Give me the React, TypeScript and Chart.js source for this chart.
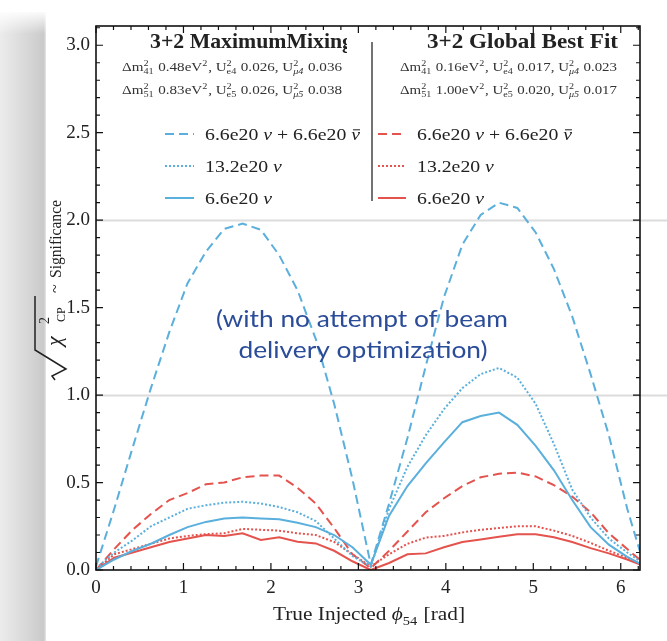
import React, { useEffect, useRef } from "react";
import { Chart, registerables } from "chart.js";

Chart.register(...registerables);

const W = 667;
const H = 641;

// True injected phase (rad)
const PHI = [0, 0.209, 0.419, 0.628, 0.838, 1.047, 1.257, 1.466, 1.676, 1.885, 2.094, 2.304, 2.513, 2.723, 2.932, 3.142, 3.351, 3.561, 3.770, 3.979, 4.189, 4.398, 4.608, 4.817, 5.027, 5.236, 5.445, 5.655, 5.864, 6.074, 6.283];

// 3+2 Maximum Mixing (blue)
const MM_NU_NUBAR = [0.02, 0.35, 0.70, 1.04, 1.36, 1.64, 1.82, 1.95, 1.98, 1.945, 1.80, 1.60, 1.32, 0.95, 0.52, 0.03, 0.38, 0.755, 1.165, 1.56, 1.86, 2.03, 2.10, 2.07, 1.93, 1.72, 1.45, 1.12, 0.77, 0.35, 0.0];
const MM_132_NU = [0.01, 0.10, 0.17, 0.25, 0.30, 0.35, 0.37, 0.385, 0.39, 0.38, 0.36, 0.33, 0.28, 0.18, 0.08, 0.02, 0.35, 0.59, 0.77, 0.92, 1.04, 1.12, 1.155, 1.10, 0.95, 0.72, 0.46, 0.30, 0.18, 0.10, 0.03];
const MM_66_NU = [0.0, 0.06, 0.11, 0.15, 0.20, 0.245, 0.275, 0.295, 0.30, 0.295, 0.29, 0.27, 0.245, 0.20, 0.13, 0.03, 0.31, 0.48, 0.61, 0.73, 0.845, 0.88, 0.90, 0.83, 0.71, 0.57, 0.40, 0.245, 0.145, 0.075, 0.02];

// 3+2 Global Best Fit (red)
const BF_NU_NUBAR = [0.0, 0.12, 0.23, 0.32, 0.40, 0.44, 0.49, 0.50, 0.53, 0.54, 0.54, 0.47, 0.38, 0.24, 0.09, 0.01, 0.11, 0.22, 0.33, 0.41, 0.48, 0.53, 0.55, 0.557, 0.535, 0.485, 0.42, 0.33, 0.21, 0.12, 0.03];
const BF_132_NU = [0.0, 0.09, 0.12, 0.15, 0.18, 0.195, 0.205, 0.21, 0.235, 0.23, 0.225, 0.21, 0.20, 0.16, 0.09, 0.02, 0.09, 0.15, 0.185, 0.195, 0.215, 0.23, 0.24, 0.25, 0.25, 0.225, 0.195, 0.155, 0.11, 0.07, 0.02];
const BF_66_NU = [0.0, 0.07, 0.10, 0.13, 0.16, 0.18, 0.20, 0.195, 0.21, 0.172, 0.187, 0.162, 0.152, 0.11, 0.05, 0.0, 0.04, 0.09, 0.095, 0.13, 0.16, 0.175, 0.19, 0.204, 0.204, 0.187, 0.16, 0.125, 0.095, 0.06, 0.02];

const X_TICKS = [0, 1, 2, 3, 4, 5, 6];
const Y_TICKS = [0, 0.5, 1.0, 1.5, 2.0, 2.5, 3.0];
const GUIDE_LEVELS = [1.0, 2.0];

const TITLE_LEFT = "3+2 MaximumMixing";
const TITLE_RIGHT = "3+2 Global Best Fit";
const NOTE_LINES = ["(with no attempt of beam", "delivery optimization)"];

const BLUE = "#5aafdc";
const RED = "#e4534d";
const INK = "#222";
const SERIF = '"Liberation Serif", "Times New Roman", serif';

const DASH = [9, 5];
const DOT = [2, 2];

type Seg = { t: string; it?: boolean; sub?: string; sup?: string; bar?: boolean; subIt?: boolean };

function fnt(size: number, it = false, bold = false, fam = SERIF) {
  return `${it ? "italic " : ""}${bold ? "bold " : ""}${size}px ${fam}`;
}

function richWidth(ctx: CanvasRenderingContext2D, segs: Seg[], size: number, bold = false) {
  let w = 0;
  for (const s of segs) {
    ctx.font = fnt(size, !!s.it, bold);
    w += ctx.measureText(s.t).width;
    if (s.sub || s.sup) {
      const ss = size * 0.68;
      let a = 0, b = 0;
      if (s.sub) { ctx.font = fnt(ss, !!s.subIt, bold); a = ctx.measureText(s.sub).width; }
      if (s.sup) { ctx.font = fnt(ss, false, bold); b = ctx.measureText(s.sup).width; }
      w += Math.max(a, b) + size * 0.05;
    }
  }
  return w;
}

function drawRich(
  ctx: CanvasRenderingContext2D,
  segs: Seg[],
  x: number,
  y: number,
  size: number,
  o: { bold?: boolean; align?: "left" | "center" | "right"; width?: number; sx?: number; color?: string } = {}
) {
  const w = richWidth(ctx, segs, size, !!o.bold);
  const sx = o.width ? o.width / w : o.sx ?? 1;
  const total = w * sx;
  const x0 = o.align === "center" ? x - total / 2 : o.align === "right" ? x - total : x;
  ctx.save();
  ctx.translate(x0, y);
  ctx.scale(sx, 1);
  ctx.fillStyle = o.color ?? INK;
  ctx.strokeStyle = o.color ?? INK;
  ctx.textBaseline = "alphabetic";
  ctx.textAlign = "left";
  let cx = 0;
  for (const s of segs) {
    ctx.font = fnt(size, !!s.it, !!o.bold);
    const tw = ctx.measureText(s.t).width;
    ctx.fillText(s.t, cx, 0);
    if (s.bar) {
      ctx.lineWidth = Math.max(1, size * 0.06);
      ctx.beginPath();
      ctx.moveTo(cx + tw * 0.2, -size * 0.6);
      ctx.lineTo(cx + tw * 1.0, -size * 0.6);
      ctx.stroke();
    }
    cx += tw;
    if (s.sub || s.sup) {
      const ss = size * 0.68;
      let a = 0, b = 0;
      if (s.sub) {
        ctx.font = fnt(ss, !!s.subIt, !!o.bold);
        ctx.fillText(s.sub, cx, size * 0.25);
        a = ctx.measureText(s.sub).width;
      }
      if (s.sup) {
        ctx.font = fnt(ss, false, !!o.bold);
        ctx.fillText(s.sup, cx, -size * 0.42);
        b = ctx.measureText(s.sup).width;
      }
      cx += Math.max(a, b) + size * 0.05;
    }
  }
  ctx.restore();
  return sx;
}

function paramSegs(i: string, dm: string, ue: string, um: string): Seg[] {
  return [
    { t: "\u0394m", sub: i + "1", sup: "2" },
    { t: " " + dm + "eV", sup: "2" },
    { t: ", U", sub: "e" + i, sup: "2" },
    { t: " " + ue + ", U", sub: "\u03bc" + i, sup: "2", subIt: true },
    { t: " " + um },
  ];
}

const LEGEND_SEGS: Seg[][] = [
  [{ t: "6.6e20 " }, { t: "\u03bd", it: true }, { t: " + 6.6e20 " }, { t: "\u03bd", it: true, bar: true }],
  [{ t: "13.2e20 " }, { t: "\u03bd", it: true }],
  [{ t: "6.6e20 " }, { t: "\u03bd", it: true }],
];

const backgroundPlugin = {
  id: "slideBackground",
  beforeDraw(chart: any) {
    const ctx: CanvasRenderingContext2D = chart.ctx;
    ctx.save();
    ctx.fillStyle = "#ffffff";
    ctx.fillRect(0, 0, W, H);
    const g = ctx.createLinearGradient(0, 0, 46, 0);
    g.addColorStop(0, "#ececec");
    g.addColorStop(0.8, "#d0d0d0");
    g.addColorStop(0.95, "#c9c9c9");
    g.addColorStop(1, "#e6e6e6");
    ctx.fillStyle = g;
    ctx.fillRect(0, 12, 46, H - 12);
    const gv = ctx.createLinearGradient(0, 10, 0, 34);
    gv.addColorStop(0, "rgba(255,255,255,1)");
    gv.addColorStop(1, "rgba(255,255,255,0)");
    ctx.fillStyle = gv;
    ctx.fillRect(0, 10, 46, 24);
    ctx.restore();
  },
  beforeDatasetsDraw(chart: any) {
    const ctx: CanvasRenderingContext2D = chart.ctx;
    const y = chart.scales.y;
    const a = chart.chartArea;
    ctx.save();
    ctx.strokeStyle = "#dcdcdc";
    ctx.lineWidth = 2;
    for (const v of GUIDE_LEVELS) {
      const py = Math.round(y.getPixelForValue(v)) + 0.5;
      ctx.beginPath();
      ctx.moveTo(a.left, py);
      ctx.lineTo(W, py);
      ctx.stroke();
    }
    ctx.restore();
  },
};

const framePlugin = {
  id: "frameAndText",
  afterDraw(chart: any) {
    const ctx: CanvasRenderingContext2D = chart.ctx;
    const a = chart.chartArea;
    const xs = chart.scales.x;
    const ys = chart.scales.y;
    ctx.save();
    // frame
    ctx.strokeStyle = "#111";
    ctx.lineWidth = 1.6;
    ctx.strokeRect(a.left, a.top, a.right - a.left, a.bottom - a.top);
    // inward ticks
    ctx.lineWidth = 1.2;
    for (let i = 0; i <= 31; i++) {
      const v = i * 0.2;
      if (v > xs.max) break;
      const px = xs.getPixelForValue(v);
      const major = i % 5 === 0;
      const L = major ? 7 : 4;
      ctx.beginPath();
      ctx.moveTo(px, a.bottom);
      ctx.lineTo(px, a.bottom - L);
      ctx.moveTo(px, a.top);
      ctx.lineTo(px, a.top + L);
      ctx.stroke();
    }
    for (let i = 0; i <= 31; i++) {
      const v = i * 0.1;
      if (v > ys.max) break;
      const py = ys.getPixelForValue(v);
      const major = i % 5 === 0;
      const L = major ? 7 : 4;
      ctx.beginPath();
      ctx.moveTo(a.left, py);
      ctx.lineTo(a.left + L, py);
      ctx.moveTo(a.right, py);
      ctx.lineTo(a.right - L, py);
      ctx.stroke();
    }

    // header titles
    ctx.save();
    ctx.beginPath();
    ctx.rect(0, 0, 347, H);
    ctx.clip();
    drawRich(ctx, [{ t: TITLE_LEFT }], 150, 48, 21, { bold: true, width: 203 });
    ctx.restore();
    drawRich(ctx, [{ t: TITLE_RIGHT }], 427, 48, 21, { bold: true, width: 191 });

    drawRich(ctx, paramSegs("4", "0.48", "0.026", "0.036"), 122, 71, 13, { width: 220, color: "#333" });
    drawRich(ctx, paramSegs("5", "0.83", "0.026", "0.038"), 122, 94, 13, { width: 220, color: "#333" });
    drawRich(ctx, paramSegs("4", "0.16", "0.017", "0.023"), 400, 71, 13, { width: 217, color: "#333" });
    drawRich(ctx, paramSegs("5", "1.00", "0.020", "0.017"), 400, 94, 13, { width: 217, color: "#333" });

    // separator
    ctx.strokeStyle = "#444";
    ctx.lineWidth = 1.5;
    ctx.beginPath();
    ctx.moveTo(372, 42);
    ctx.lineTo(372, 201);
    ctx.stroke();

    // legend
    const ds = chart.data.datasets;
    const rowsY = [134, 166, 198];
    const cols = [
      { s0: 165, s1: 194, tx: 205, idx: [0, 1, 2] },
      { s0: 378, s1: 406, tx: 417, idx: [3, 4, 5] },
    ];
    const legSx = 155 / richWidth(ctx, LEGEND_SEGS[0], 17);
    for (const c of cols) {
      c.idx.forEach((di, r) => {
        const d = ds[di];
        const y = rowsY[r];
        ctx.save();
        ctx.strokeStyle = d.borderColor;
        ctx.lineWidth = 2;
        ctx.setLineDash(d.borderDash || []);
        ctx.beginPath();
        ctx.moveTo(c.s0, y);
        ctx.lineTo(c.s1, y);
        ctx.stroke();
        ctx.restore();
        drawRich(ctx, LEGEND_SEGS[r], c.tx, y + 6, 17, { sx: legSx });
      });
    }

    // x title
    drawRich(
      ctx,
      [{ t: "True Injected " }, { t: "\u03d5", it: true, sub: "54" }, { t: " [rad]" }],
      369,
      620,
      19,
      { align: "center", width: 192 }
    );

    // y title (rotated)
    ctx.save();
    ctx.translate(61, 330);
    ctx.rotate(-Math.PI / 2);
    ctx.strokeStyle = INK;
    ctx.fillStyle = INK;
    ctx.lineWidth = 1.5;
    ctx.beginPath();
    ctx.moveTo(-50, -6);
    ctx.lineTo(-46, -9);
    ctx.lineTo(-39, 5);
    ctx.lineTo(-20, -26);
    ctx.lineTo(34, -26);
    ctx.stroke();
    ctx.textBaseline = "alphabetic";
    ctx.font = fnt(22, true);
    ctx.fillText("\u03c7", -16, 0);
    ctx.font = fnt(14);
    ctx.fillText("2", 6, -12);
    ctx.font = fnt(12);
    ctx.fillText("CP", 8, 4);
    ctx.font = fnt(16);
    ctx.fillText("~", 37, -1);
    drawRich(ctx, [{ t: "Significance" }], 52, 0, 16, { width: 78 });
    ctx.restore();

    // overlay note
    ctx.font = '24px Lato, "Noto Sans", sans-serif';
    ctx.fillStyle = "#2b4c98";
    const w1 = ctx.measureText(NOTE_LINES[0]).width;
    const nsx = 292 / w1;
    ctx.save();
    ctx.translate(362, 327);
    ctx.scale(nsx, 1);
    ctx.textAlign = "center";
    ctx.textBaseline = "alphabetic";
    ctx.fillText(NOTE_LINES[0], 0, 0);
    ctx.restore();
    ctx.save();
    ctx.translate(363, 358);
    ctx.scale(nsx, 1);
    ctx.textAlign = "center";
    ctx.textBaseline = "alphabetic";
    ctx.fillText(NOTE_LINES[1], 0, 0);
    ctx.restore();

    ctx.restore();
  },
};

function series(ys: number[]) {
  return PHI.map((x, i) => ({ x, y: ys[i] }));
}

export default function App() {
  const ref = useRef<HTMLCanvasElement | null>(null);

  useEffect(() => {
    if (!ref.current) return;
    const mk = (label: string, ys: number[], color: string, dash: number[], width = 2) => ({
      label,
      data: series(ys),
      borderColor: color,
      backgroundColor: color,
      borderDash: dash,
      borderWidth: width,
      pointRadius: 0,
      fill: false,
      tension: 0,
    });
    const chart = new Chart(ref.current, {
      type: "line",
      data: {
        datasets: [
          mk("MM 6.6e20 nu + 6.6e20 nubar", MM_NU_NUBAR, BLUE, DASH),
          mk("MM 13.2e20 nu", MM_132_NU, BLUE, DOT),
          mk("MM 6.6e20 nu", MM_66_NU, BLUE, []),
          mk("BF 6.6e20 nu + 6.6e20 nubar", BF_NU_NUBAR, RED, DASH),
          mk("BF 13.2e20 nu", BF_132_NU, RED, DOT),
          mk("BF 6.6e20 nu", BF_66_NU, RED, []),
        ] as any,
      },
      options: {
        animation: false,
        responsive: false,
        maintainAspectRatio: false,
        devicePixelRatio: 1,
        layout: { padding: { left: 0, right: 27, top: 26, bottom: 0 } },
        plugins: { legend: { display: false }, tooltip: { enabled: false } },
        scales: {
          x: {
            type: "linear",
            min: 0,
            max: 6.22,
            afterBuildTicks: (s: any) => {
              s.ticks = X_TICKS.map((v) => ({ value: v }));
            },
            afterFit: (s: any) => {
              s.height = 71;
            },
            grid: { display: false, drawTicks: false },
            border: { display: false },
            ticks: {
              padding: 7,
              maxRotation: 0,
              autoSkip: false,
              color: INK,
              font: { family: SERIF, size: 19 },
              callback: (v: any) => String(v),
            },
          },
          y: {
            type: "linear",
            min: 0,
            max: 3.11,
            afterBuildTicks: (s: any) => {
              s.ticks = Y_TICKS.map((v) => ({ value: v }));
            },
            afterFit: (s: any) => {
              s.width = 96;
            },
            grid: { display: false, drawTicks: false },
            border: { display: false },
            ticks: {
              padding: 6,
              autoSkip: false,
              color: INK,
              font: { family: SERIF, size: 19 },
              callback: (v: any) => Number(v).toFixed(1),
            },
          },
        },
      } as any,
      plugins: [backgroundPlugin, framePlugin],
    });
    return () => chart.destroy();
  }, []);

  return (
    <div style={{ position: "fixed", left: 0, top: 0, width: W, height: H, background: "#fff" }}>
      <canvas ref={ref} width={W} height={H} style={{ display: "block", width: W, height: H }} />
    </div>
  );
}
